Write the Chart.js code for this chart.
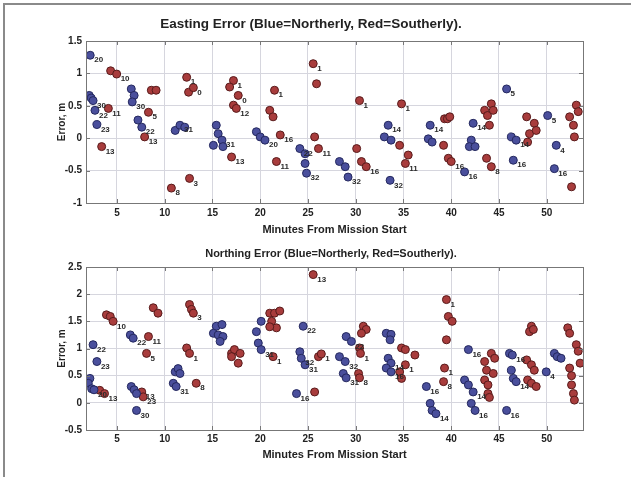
<!DOCTYPE html>
<html><head><meta charset="utf-8">
<script src="https://cdn.jsdelivr.net/npm/chart.js@4.4.1/dist/chart.umd.min.js"></script>
<style>
html,body{margin:0;padding:0;background:#fff;}
#wrap{position:relative;width:631px;height:477px;overflow:hidden;}
#frame{position:absolute;left:3px;top:3px;width:640px;height:490px;border-top:2px solid #8a8a8a;border-left:2px solid #8a8a8a;}
canvas{position:absolute;left:0;}
#c1{top:0;}
#c2{top:240px;}
</style></head>
<body><div id="wrap"><div id="frame"></div>
<canvas id="c1" width="631" height="240"></canvas>
<canvas id="c2" width="631" height="237"></canvas></div>
<script>
// ---------- text ----------
const titleEast = "Easting Error (Blue=Northerly, Red=Southerly).";
const titleNorth = "Northing Error (Blue=Northerly, Red=Southerly).";
const xTitle = "Minutes From Mission Start";
const yTitle = "Error, m";
const xTicks = [5,10,15,20,25,30,35,40,45,50];
const yTicksEast = [-1,-0.5,0,0.5,1,1.5];
const yTicksNorth = [-0.5,0,0.5,1,1.5,2,2.5];

// ---------- Easting, blue (northerly) ----------
const eastBlueX = [2.2,2.1,2.3,2.5,2.7,2.9,6.5,6.8,6.6,7.2,7.6,11.1,11.6,12.1,15.4,15.6,15.1,16.0,16.1,19.6,20.0,20.5,24.15,24.7,24.7,24.85,28.3,28.9,29.2,33.4,33.0,33.7,33.6,37.8,37.6,38.0,41.4,42.3,42.1,41.9,42.5,45.8,46.3,46.8,46.5,50.1,51.0,50.8];
const eastBlueY = [1.28,0.66,0.62,0.58,0.43,0.21,0.76,0.66,0.56,0.28,0.17,0.12,0.2,0.17,0.2,0.07,-0.11,-0.03,-0.13,0.1,0.02,-0.03,-0.16,-0.24,-0.39,-0.54,-0.36,-0.44,-0.6,0.2,0.02,-0.03,-0.65,0.2,-0.01,-0.06,-0.52,0.23,-0.03,-0.13,-0.13,0.76,0.02,-0.03,-0.34,0.35,-0.11,-0.47];
const eastBlueLbl = ["20","","","30","22","23","","","30","","22","","31","","","","","31","","","","20","22","","","32","","","32","14","","","32","14","","","16","14","","","","5","","14","16","5","4","16"];
// ---------- Easting, red (southerly) ----------
const eastRedX = [4.34,4.97,4.1,3.4,8.6,9.1,8.3,7.9,10.7,12.6,12.3,12.5,13.0,17.2,16.8,17.7,17.2,17.5,17.0,25.55,25.9,21.5,21.0,21.35,22.1,21.7,25.7,26.1,30.4,34.8,34.6,35.5,35.2,30.1,30.6,31.1,39.3,39.6,39.85,39.2,39.7,40.0,43.5,43.8,44.2,44.4,44.0,43.7,44.2,47.9,48.7,48.2,48.0,48.9,53.1,53.3,52.4,52.8,52.9,52.6];
const eastRedY = [1.04,0.99,0.46,-0.13,0.74,0.74,0.40,0.02,-0.77,-0.62,0.94,0.71,0.78,0.89,0.79,0.66,0.51,0.46,-0.29,1.15,0.84,0.74,0.43,0.33,0.05,-0.36,0.02,-0.16,0.58,0.53,-0.11,-0.26,-0.39,-0.16,-0.36,-0.44,0.3,0.3,0.33,-0.11,-0.31,-0.36,0.43,0.35,0.53,0.43,0.2,-0.31,-0.44,0.33,0.23,0.07,-0.06,0.12,0.51,0.41,0.33,0.2,0.02,-0.75];
const eastRedLbl = ["","10","11","13","","","5","13","8","3","1","","0","1","","0","","12","13","1","","1","","","16","11","","11","1","1","","","11","","","16","","","","","","16","","","","","","","8","","","","","","","","","","",""];

// ---------- Northing, blue ----------
const northBlueX = [2.17,2.0,2.35,2.6,2.5,2.9,6.4,6.7,6.5,6.8,7.05,7.05,11.1,11.4,11.6,10.9,11.2,15.4,16.0,15.1,15.6,16.1,15.8,19.6,20.1,19.8,20.1,24.5,24.15,24.3,24.7,23.8,29.0,29.55,28.3,28.9,28.7,29.0,33.2,33.7,33.6,33.4,33.7,33.2,33.7,37.4,37.8,38.0,38.4,41.8,41.4,41.8,42.3,42.1,42.5,46.1,46.4,46.3,46.5,46.8,45.8,50.8,51.1,51.5,49.95];
const northBlueY = [0.45,0.36,0.26,0.24,1.07,0.76,1.25,1.19,0.3,0.24,0.17,-0.14,0.57,0.63,0.54,0.36,0.3,1.41,1.44,1.28,1.25,1.22,1.13,1.31,1.5,1.1,0.98,1.41,0.94,0.82,0.7,0.17,1.22,1.13,0.85,0.76,0.54,0.46,1.28,1.26,1.16,0.82,0.73,0.64,0.57,0.3,-0.01,-0.14,-0.2,0.98,0.42,0.33,0.2,-0.01,-0.14,0.91,0.88,0.6,0.45,0.39,-0.14,0.91,0.85,0.82,0.57];
const northBlueLbl = ["","","","20","22","23","","22","","","","30","","","","","31","","","","","","","","","","31","22","","32","31","16","","22","","32","","31","","","","","14","","16","16","","","14","16","","","14","","16","","16","","","14","16","","","","4"];
// ---------- Northing, red ----------
const northRedX = [3.2,3.7,3.9,4.3,4.6,8.3,8.1,8.8,9.3,7.6,7.75,12.6,12.8,13.0,12.3,12.6,13.3,17.0,17.3,17.0,17.9,17.7,21.0,21.5,22.05,21.2,21.7,21.0,21.35,25.55,26.1,26.4,25.7,30.8,31.1,30.6,30.4,30.5,30.3,30.4,34.8,35.2,36.2,35.2,34.6,34.8,39.5,39.7,40.1,39.5,39.3,39.2,43.5,43.7,43.5,43.85,43.85,44.0,44.2,44.55,44.4,48.4,48.2,48.6,47.9,48.4,48.7,48.0,48.4,48.9,52.2,52.4,53.1,53.3,53.5,52.4,52.6,52.6,52.8,52.9];
const northRedY = [0.23,0.17,1.62,1.59,1.5,1.22,0.91,1.75,1.65,0.2,0.11,1.81,1.72,1.65,1.01,0.91,0.36,0.91,0.98,0.85,0.91,0.73,1.65,1.65,1.69,1.5,1.38,1.4,0.85,2.36,0.85,0.9,0.2,1.41,1.35,1.28,1.01,0.91,0.54,0.46,1.01,0.98,0.88,0.7,0.57,0.45,1.9,1.59,1.5,1.16,0.64,0.39,0.76,0.6,0.42,0.33,0.17,0.1,0.91,0.82,0.54,1.41,1.31,1.35,0.79,0.7,0.6,0.42,0.36,0.3,1.38,1.28,1.07,0.95,0.73,0.64,0.5,0.33,0.17,0.05];
const northRedLbl = ["","13","","","10","11","5","","","13","23","","","3","","1","8","","","","","","","","","","","","1","13","","1","","","","","","1","","8","","","","1","","","1","","","","1","8","","","","","","","","","","","","","","","","","","","","","","","","","","","",""];

// ---------- helpers ----------
const FONT = "'Liberation Sans', Arial, sans-serif";
const BLUE_FILL = '#4a4f9c', BLUE_EDGE = '#24285e';
const RED_FILL = '#a83c3c', RED_EDGE = '#581b1b';

function pts(xs, ys, ls){ return xs.map((x,i)=>({x:x, y:ys[i], lbl:ls[i]||''})); }

const pointLabels = {
  id:'pointLabels',
  afterDatasetsDraw(chart){
    const ctx = chart.ctx;
    ctx.save();
    ctx.font = "bold 8px " + FONT;
    ctx.fillStyle = '#2a2a2a';
    ctx.textAlign = 'left';
    ctx.textBaseline = 'middle';
    chart.data.datasets.forEach((ds, di)=>{
      const meta = chart.getDatasetMeta(di);
      meta.data.forEach((el, i)=>{
        const l = ds.data[i].lbl;
        if (l) ctx.fillText(l, el.x + 4, el.y + 5);
      });
    });
    ctx.restore();
  }
};
const axesBox = {
  id:'axesBox',
  afterDraw(chart, args, opts){
    const {ctx, chartArea:a} = chart;
    ctx.save();
    ctx.strokeStyle = '#777';
    ctx.lineWidth = 1;
    ctx.strokeRect(Math.round(a.left)+0.5, Math.round(a.top)+0.5, Math.round(a.right-a.left), Math.round(a.bottom-a.top));
    const xs = chart.scales.x, ys = chart.scales.y;
    ctx.beginPath();
    xs.ticks.forEach(t=>{ const px = Math.round(xs.getPixelForValue(t.value))+0.5;
      ctx.moveTo(px, a.bottom); ctx.lineTo(px, a.bottom-4); ctx.moveTo(px, a.top); ctx.lineTo(px, a.top+4); });
    ys.ticks.forEach(t=>{ const py = Math.round(ys.getPixelForValue(t.value))+0.5;
      ctx.moveTo(a.left, py); ctx.lineTo(a.left+4, py); ctx.moveTo(a.right, py); ctx.lineTo(a.right-4, py); });
    ctx.stroke();
    // plot title
    ctx.font = opts.font;
    ctx.fillStyle = '#222';
    ctx.textAlign = 'center';
    ctx.textBaseline = 'middle';
    ctx.fillText(opts.text, opts.x, opts.y);
    ctx.restore();
  }
};

function makeChart(id, blue, red, yMin, yMax, yTicks, cfg){
  return new Chart(document.getElementById(id), {
    type:'scatter',
    data:{datasets:[
      {label:'Northerly', data:blue, backgroundColor:BLUE_FILL, borderColor:BLUE_EDGE, borderWidth:1, pointRadius:4},
      {label:'Southerly', data:red, backgroundColor:RED_FILL, borderColor:RED_EDGE, borderWidth:1, pointRadius:4}
    ]},
    options:{
      responsive:false, animation:false, devicePixelRatio:1,
      layout:{padding:{left:0, right:48, top:cfg.padTop, bottom:0}},
      plugins:{legend:{display:false}, tooltip:{enabled:false},
        axesBox:{text:cfg.title, font:cfg.titleFont, x:cfg.titleX, y:cfg.titleY}},
      scales:{
        x:{type:'linear', min:1.76, max:53.8,
          afterBuildTicks(s){ s.ticks = xTicks.map(v=>({value:v})); },
          afterFit(s){ s.height = cfg.xAxisH; },
          grid:{color:'#d6d6de', drawTicks:false},
          border:{display:false},
          ticks:{padding:cfg.xTickPad, color:'#222', font:{family:FONT, size:10, weight:'bold'}, maxRotation:0,
            callback:(v)=>String(v)},
          title:{display:true, text:xTitle, color:'#222', font:{family:FONT, size:11, weight:'bold'}, padding:{top:0,bottom:cfg.xTitlePad}}
        },
        y:{type:'linear', min:yMin, max:yMax,
          afterBuildTicks(s){ s.ticks = yTicks.map(v=>({value:v})); },
          afterFit(s){ s.width = 86; },
          grid:{color:'#d6d6de', drawTicks:false},
          border:{display:false},
          ticks:{padding:4, color:'#222', font:{family:FONT, size:10, weight:'bold'}, callback:(v)=>String(v)},
          title:{display:true, text:yTitle, color:'#222', font:{family:FONT, size:10, weight:'bold'}, padding:{top:56,bottom:0}}
        }
      }
    },
    plugins:[pointLabels, axesBox]
  });
}

makeChart('c1', pts(eastBlueX,eastBlueY,eastBlueLbl), pts(eastRedX,eastRedY,eastRedLbl), -1, 1.5, yTicksEast,
  {padTop:41, xAxisH:37, xTickPad:4, xTitlePad:3, title:titleEast, titleFont:"bold 13.5px "+FONT, titleX:311, titleY:24});
makeChart('c2', pts(northBlueX,northBlueY,northBlueLbl), pts(northRedX,northRedY,northRedLbl), -0.5, 2.5, yTicksNorth,
  {padTop:27, xAxisH:47, xTickPad:3, xTitlePad:15, title:titleNorth, titleFont:"bold 11px "+FONT, titleX:331, titleY:14});
</script></body></html>
